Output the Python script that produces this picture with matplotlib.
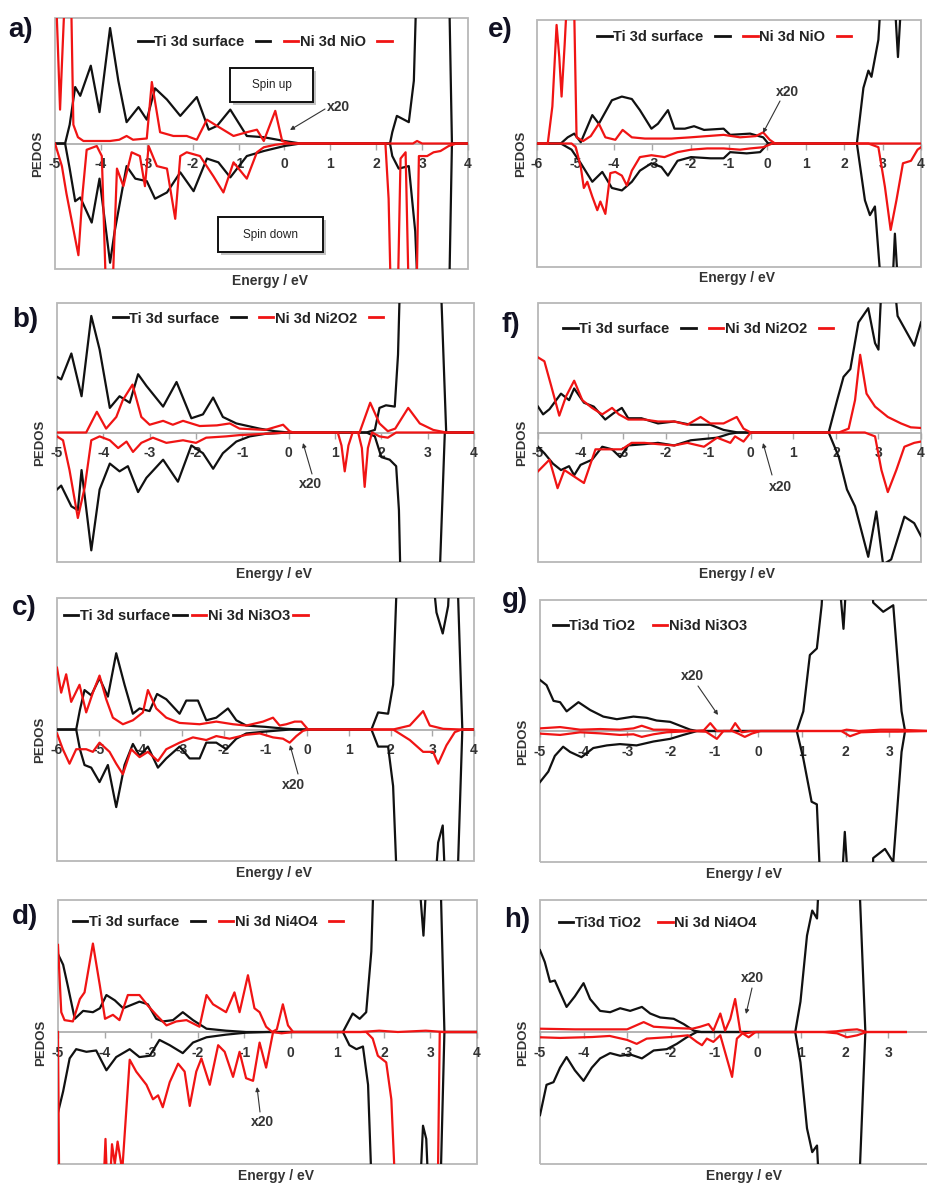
import matplotlib
matplotlib.use("Agg")
import matplotlib.pyplot as plt
from matplotlib.patches import Rectangle
from matplotlib.lines import Line2D

plt.rcParams['font.family'] = ['Liberation Sans', 'DejaVu Sans']
plt.rcParams['axes.unicode_minus'] = False

W, H = 928, 1188
BLACK = '#111111'
RED = '#f01414'

# ---------------- data: (energy eV, PEDOS) pairs; PEDOS in plot units, +/-10 = panel edge ----------------
A_TI_UP = [(-5,0),(-4.78,0),(-4.68,1.5),(-4.56,4.5),(-4.45,3.8),(-4.22,6.2),(-4.03,2.5),(-3.8,9.2),(-3.62,5.0),(-3.44,1.7),(-3.18,2.9),(-3.0,1.9),(-2.82,4.4),(-2.56,3.5),(-2.27,2.2),(-1.91,3.7),(-1.65,1.1),(-1.47,1.4),(-1.18,2.7),(-0.82,0.6),(-0.45,0.5),(0,0.2),(0.35,0),(2.3,0),(2.35,0.9),(2.45,2.2),(2.71,1.7),(2.82,5),(2.89,14),(3.58,14),(3.65,0),(4,0)]
A_TI_DN = [(-5,0),(-4.78,0),(-4.68,-2),(-4.56,-4.6),(-4.45,-4.3),(-4.2,-6.3),(-4.03,-2.8),(-3.8,-9.5),(-3.7,-7),(-3.44,-1.8),(-3.25,-2.8),(-3.0,-3.0),(-2.82,-4.4),(-2.56,-3.9),(-2.27,-2.3),(-1.98,-3.8),(-1.69,-1.2),(-1.44,-1.5),(-1.18,-2.7),(-0.82,-1.0),(-0.45,-0.6),(0,-0.2),(0.35,0),(2.3,0),(2.35,-1.0),(2.49,-2.0),(2.71,-1.8),(2.85,-7),(2.93,-14),(3.58,-14),(3.65,0),(4,0)]
A_NI_UP = [(-5,14),(-4.94,8),(-4.89,2.7),(-4.83,8),(-4.76,14),(-4.66,14),(-4.6,1.5),(-4.5,0.5),(-4.38,0.2),(-3.8,0.2),(-3.6,0.3),(-3.44,0.6),(-3.3,0.3),(-3.0,0.4),(-2.89,4.9),(-2.71,0.9),(-2.42,0.6),(-2.13,0.6),(-1.91,0.3),(-1.69,1.9),(-1.47,1.4),(-1.11,0.6),(-0.82,0.9),(-0.6,1.1),(-0.45,0.2),(-0.2,2.6),(-0.05,0.2),(0.13,0),(2.8,0),(2.89,0.2),(3.0,0),(4,0)]
A_NI_DN = [(-5,0),(-4.85,-1.8),(-4.75,-4),(-4.49,-8.9),(-4.4,-4),(-4.31,-0.5),(-4.09,-0.2),(-3.98,-1),(-3.87,-14),(-3.77,-14),(-3.65,-2.0),(-3.51,-3.4),(-3.33,-0.7),(-3.15,-1.0),(-3.04,-3.4),(-2.96,-0.2),(-2.78,-1.8),(-2.56,-2.0),(-2.38,-6.0),(-2.27,-1.0),(-2.13,-0.7),(-1.84,-1.0),(-1.55,-2.6),(-1.33,-3.9),(-1.11,-1.5),(-0.82,-2.8),(-0.6,-0.7),(-0.45,-0.3),(-0.2,-0.1),(0.05,0),(2.2,0),(2.27,-4.4),(2.33,-14),(2.46,-14),(2.53,-1.2),(2.64,-0.7),(2.72,-14),(2.87,-14),(2.93,-1.0),(3.11,-1.0),(3.25,-0.7),(3.4,-0.6),(3.58,-0.2),(3.75,0),(4,0)]

B_TI_UP = [(-5,4.3),(-4.91,4.1),(-4.69,6.1),(-4.47,2.8),(-4.26,9.0),(-4.08,6.4),(-3.86,1.9),(-3.65,2.8),(-3.43,2.3),(-3.25,4.5),(-3.07,3.6),(-2.71,2.0),(-2.42,3.9),(-2.1,1.1),(-1.85,1.4),(-1.63,2.7),(-1.42,1.2),(-1.13,0.7),(-0.88,0.5),(-0.63,0.3),(-0.3,0.1),(0,0),(1.68,0),(1.86,0.2),(1.96,1.9),(2.1,2.1),(2.29,2.0),(2.36,6),(2.42,14),(3.26,14),(3.4,0),(4,0)]
B_TI_DN = [(-5,-4.4),(-4.91,-4.1),(-4.69,-5.7),(-4.55,-6.0),(-4.47,-2.9),(-4.26,-9.1),(-4.08,-4.4),(-3.86,-2.4),(-3.65,-3.0),(-3.47,-2.6),(-3.25,-4.6),(-3.07,-3.5),(-2.71,-2.1),(-2.39,-3.8),(-2.1,-1.0),(-1.85,-1.6),(-1.63,-2.8),(-1.42,-1.6),(-1.13,-0.7),(-0.84,-0.3),(-0.5,-0.1),(0,0),(1.68,0),(1.86,-0.3),(2.0,-1.9),(2.18,-2.1),(2.32,-2.6),(2.38,-6),(2.43,-14),(3.23,-14),(3.37,0),(4,0)]
B_NI_UP = [(-5,0),(-4.37,0),(-4.14,1.6),(-3.94,0.3),(-3.72,1.2),(-3.58,2.5),(-3.37,3.7),(-3.18,1.2),(-3.0,0.6),(-2.71,0.9),(-2.5,0.6),(-2.28,0.9),(-1.92,0.5),(-1.55,0.55),(-1.27,0.7),(-1.06,0.3),(-0.5,0.2),(-0.12,0.6),(0.02,0.1),(0.1,0),(1.53,0),(1.76,2.3),(1.96,0.7),(2.14,0.1),(2.3,0.3),(2.58,1.9),(2.83,0.7),(3.12,0.2),(3.4,0),(4,0)]
B_NI_DN = [(-5,-0.3),(-4.87,-0.6),(-4.73,-2.9),(-4.55,-6.6),(-4.4,-4.2),(-4.26,-0.6),(-4.08,-0.3),(-3.86,-0.6),(-3.68,-1.2),(-3.5,-0.7),(-3.36,-1.5),(-3.18,-0.8),(-2.93,-0.4),(-2.64,-0.8),(-2.28,-0.6),(-2.0,-0.8),(-1.78,-0.4),(-1.35,-0.3),(-1.06,-0.2),(-0.5,-0.1),(0,0),(1.06,0),(1.14,-1.0),(1.21,-3.0),(1.29,-1.0),(1.38,0),(1.5,0),(1.58,-1.2),(1.64,-4.2),(1.71,-1.2),(1.8,0),(1.96,-0.3),(2.14,-0.4),(2.32,0),(4,0)]

C_TI_UP = [(-6,0),(-5.54,0),(-5.45,1.5),(-5.34,3.0),(-5.18,2.6),(-4.98,3.9),(-4.78,2.5),(-4.58,5.8),(-4.38,3.4),(-4.18,1.2),(-4.02,1.6),(-3.78,1.4),(-3.6,2.7),(-3.38,2.3),(-3.06,1.2),(-2.9,2.2),(-2.62,2.2),(-2.42,0.7),(-2.18,0.9),(-1.9,1.6),(-1.7,0.7),(-1.46,0.3),(-1.0,0.2),(-0.5,0.05),(-0.2,0),(1.54,0),(1.7,1.3),(1.94,1.2),(2.06,3.4),(2.18,14),(2.94,14),(3.1,8.9),(3.25,7.3),(3.38,9.4),(3.45,14),(3.58,14),(3.72,0),(4,0)]
C_TI_DN = [(-6,0),(-5.54,0),(-5.45,-1.5),(-5.34,-2.7),(-5.18,-2.9),(-4.98,-4.0),(-4.78,-2.7),(-4.58,-5.9),(-4.38,-2.7),(-4.18,-1.1),(-4.02,-2.0),(-3.82,-1.3),(-3.58,-2.9),(-3.38,-2.2),(-3.06,-1.3),(-2.82,-2.2),(-2.58,-2.2),(-2.42,-1.0),(-2.18,-1.0),(-1.94,-1.5),(-1.7,-0.7),(-1.46,-0.3),(-0.98,-0.15),(-0.4,0),(1.54,0),(1.7,-1.3),(1.94,-1.3),(2.06,-4.3),(2.18,-14),(3.02,-14),(3.14,-8.6),(3.25,-7.3),(3.34,-14),(3.58,-14),(3.72,0),(4,0)]
C_NI_UP = [(-6,4.7),(-5.9,2.8),(-5.78,4.2),(-5.66,2.1),(-5.46,3.4),(-5.3,1.3),(-5.14,2.8),(-4.98,4.1),(-4.82,2.3),(-4.66,0.9),(-4.42,0.4),(-4.18,0.7),(-3.94,1.3),(-3.82,3.0),(-3.62,1.6),(-3.38,0.9),(-3.06,0.5),(-2.58,0.4),(-2.18,0.6),(-1.78,0.4),(-1.46,0.3),(-1.06,0.6),(-0.82,0.9),(-0.66,0.3),(-0.5,0.4),(-0.3,0.6),(-0.14,0.6),(0.02,0),(2.06,0),(2.46,0.3),(2.78,1.4),(2.94,0.3),(3.26,0.05),(3.7,0),(4,0)]
C_NI_DN = [(-6,-0.3),(-5.86,-1.5),(-5.7,-2.6),(-5.54,-1.5),(-5.3,-1.5),(-5.14,-1.7),(-4.98,-1.0),(-4.74,-1.7),(-4.58,-2.6),(-4.42,-3.4),(-4.22,-1.5),(-4.02,-2.1),(-3.82,-1.7),(-3.58,-2.4),(-3.38,-1.5),(-3.06,-1.0),(-2.74,-0.6),(-2.42,-0.8),(-2.18,-0.5),(-1.86,-0.7),(-1.46,-0.4),(-1.14,-0.3),(-0.82,-0.6),(-0.58,-0.7),(-0.42,-1.0),(-0.26,-0.5),(-0.1,-0.1),(0.02,0),(2.06,0),(2.46,-0.8),(2.78,-1.7),(3.02,-1.7),(3.14,-2.6),(3.34,-1.2),(3.54,-0.2),(3.7,0),(4,0)]

D_TI_UP = [(-5,5.9),(-4.89,5.1),(-4.79,3.5),(-4.64,1.0),(-4.46,1.6),(-4.25,1.5),(-4.1,1.8),(-3.96,2.8),(-3.78,2.4),(-3.6,1.8),(-3.39,2.1),(-3.25,2.3),(-3.07,2.1),(-2.89,1.0),(-2.75,0.8),(-2.53,0.9),(-2.32,1.5),(-2.1,0.9),(-1.81,0.25),(-1.39,0.1),(-0.96,0),(1.12,0),(1.33,1.4),(1.48,1.0),(1.62,1.5),(1.73,6.1),(1.8,14),(2.7,14),(2.77,11),(2.85,7.3),(2.95,14),(3.2,14),(3.3,0),(4,0)]
D_TI_DN = [(-5,-6.1),(-4.89,-4.5),(-4.75,-2.0),(-4.61,-1.3),(-4.39,-1.5),(-4.18,-1.4),(-3.96,-2.9),(-3.75,-1.9),(-3.46,-1.3),(-3.25,-1.9),(-3.03,-1.8),(-2.82,-0.6),(-2.6,-1.0),(-2.32,-1.6),(-2.1,-0.8),(-1.81,-0.4),(-1.39,-0.2),(-0.96,-0.05),(-0.5,0),(1.12,0),(1.26,-1.0),(1.41,-1.3),(1.55,-1.1),(1.66,-4.0),(1.76,-14),(2.75,-14),(2.84,-7.1),(2.91,-8.1),(2.98,-14),(3.2,-14),(3.3,0),(4,0)]
D_NI_UP = [(-5,6.6),(-4.93,1.5),(-4.86,0.9),(-4.68,0.8),(-4.53,2.5),(-4.43,3.0),(-4.25,6.7),(-4.1,3.5),(-3.99,1.0),(-3.82,1.3),(-3.68,0.9),(-3.5,2.8),(-3.25,2.8),(-3.07,2.0),(-2.89,1.3),(-2.67,0.5),(-2.46,0.8),(-2.24,0.9),(-1.96,0.4),(-1.81,2.8),(-1.67,2.1),(-1.39,1.5),(-1.21,3.0),(-1.1,1.5),(-0.92,4.3),(-0.78,1.8),(-0.67,1.5),(-0.53,0.4),(-0.4,0),(-0.3,0.2),(-0.17,2.1),(-0.06,0.5),(0.05,0),(1.5,0),(1.9,0.1),(2.3,0),(2.9,0.1),(3.3,0),(4,0)]
D_NI_DN = [(-5,0),(-4.97,-14),(-4.05,-14),(-3.98,-8.1),(-3.92,-14),(-3.84,-8.5),(-3.78,-10),(-3.72,-8.3),(-3.62,-10.5),(-3.46,-2.1),(-3.32,-3.0),(-3.1,-4.0),(-2.96,-5.1),(-2.85,-4.8),(-2.75,-5.7),(-2.6,-3.8),(-2.42,-2.4),(-2.28,-3.0),(-2.17,-5.6),(-2.03,-3.0),(-1.92,-2.0),(-1.74,-4.0),(-1.56,-1.0),(-1.42,-1.5),(-1.24,-3.4),(-1.1,-1.5),(-0.96,-3.5),(-0.81,-3.7),(-0.67,-0.8),(-0.53,-2.7),(-0.38,0),(-0.2,-0.1),(0.05,0),(1.62,0),(1.76,-0.5),(1.87,-1.8),(2.05,-2.3),(2.16,-5.1),(2.27,-14),(3.15,-14),(3.2,0),(4,0)]

E_TI_UP = [(-6,0),(-5.38,0),(-5.2,0.5),(-5.03,0.8),(-4.86,0.1),(-4.56,2.3),(-4.39,1.6),(-4.05,3.5),(-3.79,3.8),(-3.53,3.6),(-3.32,2.7),(-3.02,1.2),(-2.85,1.6),(-2.59,2.7),(-2.42,1.2),(-2.15,1.2),(-1.91,1.4),(-1.65,1.1),(-1.14,1.2),(-0.97,0.7),(-0.45,0.8),(-0.11,0.5),(0.02,0),(2.33,0),(2.5,4.5),(2.63,5.9),(2.71,5.4),(2.89,8.4),(3.0,14),(3.27,14),(3.4,7.0),(3.53,14),(4,14)]
E_TI_DN = [(-6,0),(-5.38,0),(-5.1,-0.5),(-4.86,-1.6),(-4.56,-3.1),(-4.3,-2.3),(-4.05,-3.6),(-3.79,-3.8),(-3.53,-3.1),(-3.32,-2.2),(-3.02,-1.6),(-2.76,-1.9),(-2.59,-2.6),(-2.34,-1.4),(-1.99,-1.1),(-1.48,-1.2),(-1.14,-1.2),(-0.97,-0.7),(-0.54,-0.8),(-0.19,-0.7),(0.02,0),(2.33,0),(2.54,-4.6),(2.67,-5.8),(2.8,-5.1),(3.02,-14),(3.22,-14),(3.32,-7.3),(3.45,-14),(4,-14)]
E_NI_UP = [(-6,0),(-5.72,0),(-5.6,3),(-5.49,9.6),(-5.42,7),(-5.36,3.8),(-5.28,8),(-5.18,14),(-5.05,14),(-4.97,0.5),(-4.8,0.2),(-4.6,0.6),(-4.39,1.6),(-4.22,0.5),(-3.96,0.3),(-3.77,1.1),(-3.53,0.5),(-3.19,0.4),(-2.5,0.4),(-2.0,0.5),(-1.14,0.7),(-0.71,0.5),(-0.3,0.6),(-0.11,0.9),(0.06,0.3),(0.2,0),(4,0)]
E_NI_DN = [(-6,0),(-5.1,0),(-4.99,-0.3),(-4.86,-1.9),(-4.78,-3.6),(-4.69,-3.1),(-4.56,-4.3),(-4.43,-5.4),(-4.35,-4.7),(-4.22,-5.7),(-4.09,-2.4),(-3.96,-2.3),(-3.79,-2.6),(-3.66,-3.4),(-3.53,-2.2),(-3.32,-1.1),(-3.02,-0.95),(-2.68,-1.1),(-2.34,-0.7),(-1.99,-0.5),(-1.57,-0.4),(-1.14,-0.4),(-0.71,-0.5),(-0.45,-0.4),(-0.11,-0.3),(0.13,0),(2.63,0),(2.89,-0.3),(3.06,-3.5),(3.21,-7.0),(3.36,-4.6),(3.53,-1.6),(3.74,-1.4),(3.91,-0.5),(4,-0.3)]

F_TI_UP = [(-5,2.0),(-4.88,1.4),(-4.73,1.8),(-4.46,3.0),(-4.27,2.5),(-4.15,3.4),(-3.92,2.3),(-3.69,2.0),(-3.42,1.0),(-3.22,1.5),(-3.03,1.9),(-2.88,1.1),(-2.57,1.1),(-2.18,0.7),(-1.8,0.85),(-1.41,0.6),(-0.95,0.6),(-0.64,0.2),(-0.3,0),(1.83,0),(2.03,2.5),(2.18,4.3),(2.34,4.9),(2.53,8.5),(2.76,9.6),(2.92,6.9),(3.0,6.4),(3.11,14),(3.3,14),(3.45,9),(3.84,6.7),(4,8.5)]
F_TI_DN = [(-5,-1.1),(-4.85,-1.6),(-4.65,-2.4),(-4.46,-2.9),(-4.27,-2.6),(-4.15,-3.3),(-4.0,-2.5),(-3.73,-2.1),(-3.49,-1.1),(-3.26,-1.3),(-3.07,-1.9),(-2.88,-1.0),(-2.5,-0.9),(-2.18,-0.8),(-1.8,-1.0),(-1.41,-0.6),(-0.79,-0.4),(-0.5,-0.1),(-0.3,0),(1.83,0),(2.07,-1.9),(2.26,-4.4),(2.45,-5.7),(2.76,-9.6),(2.95,-6.1),(3.11,-10.2),(3.3,-9.8),(3.61,-6.5),(3.84,-7.0),(4,-8)]
F_NI_UP = [(-5,5.8),(-4.85,5.5),(-4.69,3.6),(-4.5,1.3),(-4.34,2.8),(-4.15,4.0),(-3.96,2.5),(-3.73,1.9),(-3.49,1.4),(-3.26,1.9),(-3.1,1.4),(-2.88,1.0),(-2.5,1.0),(-2.18,0.85),(-1.8,0.85),(-1.49,0.6),(-1.18,1.2),(-0.95,0.7),(-0.64,0.7),(-0.33,1.2),(-0.17,0.3),(0,0),(2.07,0),(2.3,0.3),(2.45,2.5),(2.57,6.0),(2.72,3.0),(2.92,2.0),(3.22,1.2),(3.53,0.7),(3.76,0.4),(4,0.35)]
F_NI_DN = [(-5,-3.0),(-4.85,-2.5),(-4.73,-2.1),(-4.54,-4.3),(-4.38,-2.9),(-4.15,-3.4),(-3.92,-3.9),(-3.65,-1.3),(-3.34,-1.3),(-3.03,-1.3),(-2.8,-0.8),(-2.5,-0.8),(-2.18,-0.9),(-1.8,-1.0),(-1.49,-0.8),(-1.1,-1.1),(-0.79,-0.4),(-0.48,-0.8),(-0.37,-0.3),(-0.17,-0.7),(0,0),(2.68,0),(2.92,-0.3),(3.07,-2.9),(3.22,-4.6),(3.42,-2.9),(3.61,-1.1),(3.84,-0.8),(4,-0.7)]

G_TI_UP = [(-5,3.9),(-4.85,3.5),(-4.69,2.3),(-4.54,2.2),(-4.39,1.5),(-4.12,2.2),(-3.85,1.6),(-3.55,1.1),(-3.24,0.9),(-2.86,1.1),(-2.55,1.0),(-2.33,0.8),(-2.02,0.7),(-1.79,0.4),(-1.56,0.1),(-1.4,0),(0.88,0),(1.03,1.5),(1.18,5.8),(1.34,6.3),(1.45,9.6),(1.52,14),(1.79,14),(1.95,7.8),(2.06,14),(2.55,14),(2.63,9.8),(2.86,9.1),(3.09,9.6),(3.28,1.5),(3.36,0)]
G_TI_DN = [(-5,-3.9),(-4.81,-3.1),(-4.66,-1.9),(-4.47,-1.2),(-4.31,-1.6),(-4.05,-2.0),(-3.78,-1.3),(-3.47,-1.1),(-3.17,-1.0),(-2.79,-1.1),(-2.4,-0.8),(-2.02,-0.6),(-1.72,-0.3),(-1.4,0),(0.88,0),(1.03,-2.1),(1.22,-5.4),(1.34,-5.6),(1.45,-14),(1.87,-14),(1.98,-7.7),(2.1,-14),(2.6,-14),(2.63,-9.7),(2.9,-9.0),(3.09,-10),(3.28,-1.6),(3.36,0)]
G_NI_UP = [(-5,0.2),(-4.54,0.3),(-4.08,0.1),(-3.62,0.15),(-3.17,0.1),(-2.86,0.2),(-2.67,0.4),(-2.4,0.1),(-2.1,0.1),(-1.5,0),(-1.25,0.05),(-1.1,0.6),(-0.95,0),(-0.64,0),(-0.53,0.6),(-0.38,-0.1),(-0.19,0),(1.9,0),(2.02,0.1),(2.3,0),(2.8,0.1),(3.2,0.1),(4,0)]
G_NI_DN = [(-5,-0.2),(-4.54,-0.3),(-4.08,-0.1),(-3.62,-0.18),(-3.17,-0.3),(-2.86,-0.25),(-2.67,-0.45),(-2.4,-0.25),(-2.1,-0.1),(-1.5,0),(-1.2,-0.05),(-0.95,-0.6),(-0.8,0),(-0.6,0),(-0.46,-0.2),(-0.31,-0.45),(-0.15,-0.2),(0.05,0),(1.9,0),(2.1,-0.4),(2.35,-0.1),(2.8,-0.05),(3.2,-0.05),(4,0)]

H_TI_UP = [(-5,6.2),(-4.89,5.3),(-4.77,3.8),(-4.66,3.9),(-4.54,3.0),(-4.39,1.9),(-4.2,2.7),(-4.0,3.7),(-3.85,2.5),(-3.62,1.6),(-3.39,1.5),(-3.16,1.8),(-2.93,1.6),(-2.66,1.9),(-2.47,1.4),(-2.24,1.1),(-1.93,1.0),(-1.7,0.6),(-1.47,0.1),(-1.3,0),(0.86,0),(0.98,2.3),(1.13,7.3),(1.25,9.2),(1.36,8.6),(1.44,14),(2.3,14),(2.47,0)]
H_TI_DN = [(-5,-6.3),(-4.85,-4.0),(-4.69,-3.8),(-4.54,-2.7),(-4.39,-1.9),(-4.2,-2.9),(-4.0,-3.7),(-3.81,-2.7),(-3.62,-2.0),(-3.39,-1.6),(-3.16,-1.8),(-2.93,-1.7),(-2.66,-2.0),(-2.39,-1.4),(-2.09,-1.3),(-1.86,-0.9),(-1.63,-0.4),(-1.4,0),(0.86,0),(0.98,-2.3),(1.13,-7.3),(1.25,-9.1),(1.36,-8.6),(1.44,-14),(2.3,-14),(2.47,0)]
H_NI_UP = [(-5,0.25),(-4.2,0.2),(-3.4,0.2),(-3.0,0.2),(-2.62,0.75),(-2.39,0.4),(-1.9,0.3),(-1.5,0.25),(-1.32,0.4),(-1.13,0.6),(-1.02,0.1),(-0.86,1.4),(-0.75,0.1),(-0.63,1.0),(-0.52,2.5),(-0.4,0),(-0.29,-0.1),(-0.1,0),(1.5,0),(1.8,0.05),(2.05,0.15),(2.28,0.2),(2.5,0),(3.4,0)]
H_NI_DN = [(-5,-0.4),(-4.54,-0.45),(-3.8,-0.38),(-3.4,-0.3),(-3.0,-0.6),(-2.78,-0.9),(-2.55,-0.5),(-2.0,-0.38),(-1.6,-0.25),(-1.4,-0.75),(-1.28,-1.0),(-1.17,-0.5),(-1.02,-0.75),(-0.86,-0.25),(-0.71,-2.0),(-0.59,-3.4),(-0.48,-0.5),(-0.35,-0.1),(-0.21,-0.4),(-0.05,0),(1.5,0),(1.82,-0.1),(2.05,-0.4),(2.28,-0.25),(2.5,0),(3.4,0)]

LEGEND_A = ['Ti 3d surface', '', 'Ni 3d NiO', '']
LEGEND_B = ['Ti 3d surface', '', 'Ni 3d Ni2O2', '']
LEGEND_C = ['Ti 3d surface', '', 'Ni 3d Ni3O3', '']
LEGEND_D = ['Ti 3d surface', '', 'Ni 3d Ni4O4', '']
LEGEND_G = ['Ti3d TiO2', 'Ni3d Ni3O3']
LEGEND_H = ['Ti3d TiO2', 'Ni 3d Ni4O4']

# ---------------- layout helpers (figure pixels) ----------------
fig = plt.figure(figsize=(W / 100, H / 100), dpi=100)


def fx(x):
    return x / W


def fy(y):
    return 1 - y / H


def make_panel(box, xlim, tick_max, label, label_xy, series, legend_labels, leg_anchor, colsp):
    l, t, r, b = box
    ax = fig.add_axes([fx(l), fy(b), (r - l) / W, (b - t) / H])
    ax.set_xlim(*xlim)
    ax.set_ylim(-10, 10)
    for s, c in series:
        xs, ys = zip(*s)
        ax.plot(xs, ys, color=c, lw=1.6, solid_joinstyle='round', zorder=3)
    for sp in ('left', 'right', 'top'):
        ax.spines[sp].set_visible(False)
    ax.spines['bottom'].set_position(('data', 0))
    ax.spines['bottom'].set_color('#a8a8a8')
    ax.spines['bottom'].set_linewidth(1.2)
    ax.spines['bottom'].set_zorder(1)
    ax.add_patch(Rectangle((0, 0), 1, 1, transform=ax.transAxes, fill=False,
                           ec='#b8b8b8', lw=1.3, clip_on=False, zorder=0))
    ax.set_yticks([])
    ticks = list(range(int(xlim[0]), tick_max + 1))
    ax.set_xticks(ticks)
    ax.set_xticklabels([str(v) for v in ticks], fontsize=10, fontweight='bold', color='#333333')
    ax.tick_params(axis='x', direction='out', length=4, width=1, color='#a8a8a8', pad=6)
    ax.set_xlabel('Energy / eV', fontsize=10, fontweight='bold', color='#333333')
    ax.xaxis.set_label_coords(0.52, -0.018)
    ax.set_ylabel('PEDOS', fontsize=9.5, fontweight='bold', color='#333333')
    ax.yaxis.set_label_coords(-0.027, 0.46)
    fig.text(fx(label_xy[0]), fy(label_xy[1]), label, fontsize=20, fontweight='bold',
             color='#111122', ha='left', va='center')
    colors = [BLACK, BLACK, RED, RED] if len(legend_labels) == 4 else [BLACK, RED]
    handles = [Line2D([], [], color=c, lw=2.0) for c in colors]
    ax.legend(handles, legend_labels, ncol=len(legend_labels), loc='center',
              bbox_to_anchor=leg_anchor, frameon=False, handlelength=1.0,
              handletextpad=0.1, columnspacing=colsp, borderpad=0,
              prop={'weight': 'bold', 'size': 10.5})
    for t_ in ax.get_legend().get_texts():
        t_.set_color('#222222')
    return ax


def x20(text_xy, start, end):
    fig.text(fx(text_xy[0]), fy(text_xy[1]), 'x20', fontsize=10, fontweight='bold',
             color='#333333', ha='center', va='center')
    ann = plt.annotate('', xy=(fx(end[0]), fy(end[1])), xycoords='figure fraction',
                       xytext=(fx(start[0]), fy(start[1])), textcoords='figure fraction',
                       arrowprops=dict(arrowstyle='-|>', color='#333333', lw=0.8,
                                       mutation_scale=6, shrinkA=0, shrinkB=0))
    return ann


ax_a = make_panel((55, 18, 468, 269), (-5, 4), 4, 'a)', (8, 30),
                  [(A_TI_UP, BLACK), (A_TI_DN, BLACK), (A_NI_UP, RED), (A_NI_DN, RED)],
                  LEGEND_A, (0.51, 0.905), 0.8)
ax_b = make_panel((57, 303, 474, 562), (-5, 4), 4, 'b)', (12, 320),
                  [(B_TI_UP, BLACK), (B_TI_DN, BLACK), (B_NI_UP, RED), (B_NI_DN, RED)],
                  LEGEND_B, (0.46, 0.94), 0.8)
ax_c = make_panel((57, 598, 474, 861), (-6, 4), 4, 'c)', (12, 608),
                  [(C_TI_UP, BLACK), (C_TI_DN, BLACK), (C_NI_UP, RED), (C_NI_DN, RED)],
                  LEGEND_C, (0.31, 0.93), 0.2)
ax_d = make_panel((58, 900, 477, 1164), (-5, 4), 4, 'd)', (12, 917),
                  [(D_TI_UP, BLACK), (D_TI_DN, BLACK), (D_NI_UP, RED), (D_NI_DN, RED)],
                  LEGEND_D, (0.36, 0.917), 0.8)
ax_e = make_panel((537, 20, 921, 267), (-6, 4), 4, 'e)', (488, 30),
                  [(E_TI_UP, BLACK), (E_TI_DN, BLACK), (E_NI_UP, RED), (E_NI_DN, RED)],
                  LEGEND_A, (0.49, 0.93), 0.8)
ax_f = make_panel((538, 303, 921, 562), (-5, 4), 4, 'f)', (502, 325),
                  [(F_TI_UP, BLACK), (F_TI_DN, BLACK), (F_NI_UP, RED), (F_NI_DN, RED)],
                  LEGEND_B, (0.42, 0.90), 0.8)
ax_g = make_panel((540, 600, 933, 862), (-5, 4), 3, 'g)', (502, 600),
                  [(G_TI_UP, BLACK), (G_TI_DN, BLACK), (G_NI_UP, RED), (G_NI_DN, RED)],
                  LEGEND_G, (0.28, 0.90), 1.2)
ax_h = make_panel((540, 900, 932, 1164), (-5, 4), 3, 'h)', (504, 920),
                  [(H_TI_UP, BLACK), (H_TI_DN, BLACK), (H_NI_UP, RED), (H_NI_DN, RED)],
                  LEGEND_H, (0.30, 0.913), 1.2)

# spin boxes in panel a
for (x0, y0, x1, y1, txt) in [(230, 68, 313, 102, 'Spin up'), (218, 217, 323, 252, 'Spin down')]:
    fig.add_artist(Rectangle((fx(x0 + 3), fy(y1 + 3)), (x1 - x0) / W, (y1 - y0) / H,
                             transform=fig.transFigure, fc='#9a9a9a', ec='none', alpha=0.6, zorder=5))
    fig.add_artist(Rectangle((fx(x0), fy(y1)), (x1 - x0) / W, (y1 - y0) / H,
                             transform=fig.transFigure, fc='white', ec='#111111', lw=1.4, zorder=6))
    fig.text(fx((x0 + x1) / 2), fy((y0 + y1) / 2), txt, fontsize=8.5, color='#222222',
             ha='center', va='center', zorder=7)

x20((338, 107), (325, 109), (290, 130))
x20((787, 92), (780, 101), (763, 133))
x20((310, 484), (312, 474), (303, 443))
x20((780, 487), (772, 475), (763, 443))
x20((293, 785), (298, 774), (290, 745))
x20((692, 676), (698, 686), (718, 715))
x20((262, 1122), (260, 1112), (257, 1087))
x20((752, 978), (752, 988), (746, 1014))

fig.savefig('out.png', dpi=100, facecolor='white')
